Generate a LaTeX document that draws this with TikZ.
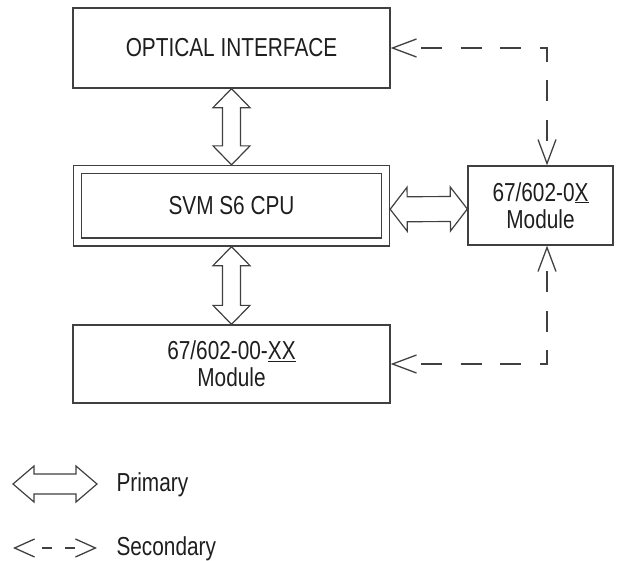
\documentclass[tikz,border=0pt]{standalone}
\usepackage{fontspec}
\setmainfont{Liberation Sans}[FakeStretch=0.8]
\definecolor{linegray}{RGB}{64,64,64}
\definecolor{textgray}{RGB}{30,30,30}
\usetikzlibrary{arrows.meta,calc}

% hollow double arrow: from, to, head length, head half width, shaft half width
\newcommand{\hollowarrow}[5]{%
  \draw[hollow] (#1) -- ($(#1)!#3!(#2)!#4!90:(#2)$) -- ($(#1)!#3!(#2)!#5!90:(#2)$)
    -- ($(#2)!#3!(#1)!#5!-90:(#1)$) -- ($(#2)!#3!(#1)!#4!-90:(#1)$) -- (#2)
    -- ($(#2)!#3!(#1)!#4!90:(#1)$) -- ($(#2)!#3!(#1)!#5!90:(#1)$)
    -- ($(#1)!#3!(#2)!#5!-90:(#2)$) -- ($(#1)!#3!(#2)!#4!-90:(#2)$) -- cycle;}

\begin{document}
\begin{tikzpicture}[x=1pt,y=1pt,
  box/.style={draw=linegray,line width=1.3pt,align=center,inner sep=0pt,text=textgray},
  hollow/.style={draw=linegray,line width=1.2pt,fill=white,line join=miter},
  dashlink/.style={draw=linegray,line width=1.3pt,>={Straight Barb[length=24pt,width=18pt]},<->,
    dash pattern=on 0pt off 28pt on 21pt off 18.5pt on 21pt off 18.5pt on 21pt off 18.5pt on 21pt off 18.5pt on 21pt off 18.5pt on 21pt off 40pt},
  lbl/.style={text=textgray},
  font=\fontsize{26}{27}\selectfont
]
  \useasboundingbox (0,0) rectangle (618,-560);

  % Optical interface
  \node[box,minimum width=317pt,minimum height=80pt] (opt) at (231.5,-48) {OPTICAL INTERFACE};

  % CPU
  \node[box,double=white,double distance=6.7pt,outer sep=4.65pt,
        minimum width=308pt,minimum height=72.5pt] (cpu) at (231.5,-205.75) {SVM S6 CPU};

  % 0X module
  \node[box,minimum width=145pt,minimum height=79pt] (mod0x) at (540.5,-205.5) {67/602-0\underline{X}\\Module};

  % 00-XX module
  \node[box,minimum width=317pt,minimum height=78pt] (mod00) at (231.5,-364) {67/602-00-\underline{XX}\\Module};

  % Primary links
  \hollowarrow{opt.south}{cpu.north}{19pt}{18.5pt}{9pt}
  \hollowarrow{cpu.south}{mod00.north}{19pt}{18.5pt}{9pt}
  \coordinate (cpuE) at ([yshift=-3.5pt]cpu.east);
  \coordinate (modW) at ([yshift=-3.5pt]mod0x.west);
  \hollowarrow{cpuE}{modW}{17pt}{22pt}{12.5pt}

  % Secondary links
  \draw[dashlink] (opt.east) -| ([xshift=6.5pt]mod0x.north);
  \draw[dashlink] (mod00.east) -| ([xshift=6.5pt]mod0x.south);

  % Legend
  \coordinate (primL) at (13,-484);
  \coordinate (primR) at (97,-484);
  \hollowarrow{primL}{primR}{21pt}{18pt}{10pt}
  \node[lbl,anchor=base west] (primtxt) at (113,-491) {Primary};

  \coordinate (secL) at (13,-548);
  \coordinate (secR) at (97,-548);
  \draw[dashlink,>={Straight Barb[length=20pt,width=18pt]},
        dash pattern=on 0pt off 27pt on 10pt off 13pt on 10pt off 40pt] (secL) -- (secR);
  \node[lbl,anchor=base west] (sectxt) at (113,-555) {Secondary};
\end{tikzpicture}
\end{document}
